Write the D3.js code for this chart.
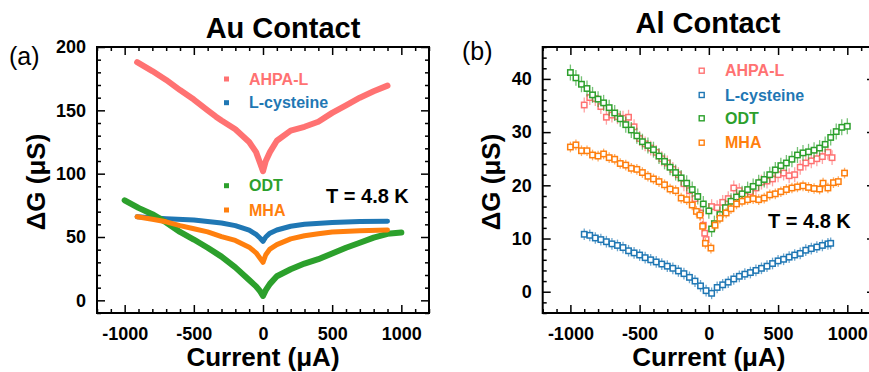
<!DOCTYPE html>
<html>
<head>
<meta charset="utf-8">
<script src="https://cdn.jsdelivr.net/npm/d3@7"></script>
<style>
  body { margin: 0; background: #fff; }
  svg { display: block; }
  text { font-family: "Liberation Sans", Arial, sans-serif; }
</style>
</head>
<body>
<div id="chart"></div>
<script>
// ---- shared axis data ----
var xTicks = [-1000, -500, 0, 500, 1000];
var xTickLabels = ['-1000', '-500', '0', '500', '1000'];
var auYTicks = [0, 50, 100, 150, 200];
var auYTickLabels = ['0', '50', '100', '150', '200'];
var alYTicks = [0, 10, 20, 30, 40];
var alYTickLabels = ['0', '10', '20', '30', '40'];
var seriesNames = ['AHPA-L', 'L-cysteine', 'ODT', 'MHA'];
var seriesColors = ['#ff7272', '#1f77b4', '#2ca02c', '#ff7f0e'];

// ---- (a) Au contact: dense sweeps (current in uA, dG in uS) ----
var auAhpaI = [-910, -800, -700, -600, -500, -400, -340, -300, -200, -100, -50, -20, 0, 20, 50, 100, 200, 300, 400, 500, 600, 700, 800, 900];
var auAhpaG = [188, 181, 174, 166, 158.5, 150, 145, 142, 135, 125, 117, 108, 102, 110, 117, 126, 134, 137, 141, 148, 154, 160, 165, 169.5];
var auCysI = [-910, -700, -500, -300, -200, -100, -50, -20, 0, 20, 50, 100, 200, 300, 500, 700, 900];
var auCysG = [66, 64.5, 63.5, 61, 59, 55.5, 52, 49, 46.5, 50, 53, 55.5, 58.5, 60, 61.5, 62.2, 62.5];
var auOdtI = [-1000, -900, -800, -700, -600, -500, -400, -300, -200, -100, -50, -20, 0, 20, 50, 100, 200, 300, 400, 500, 600, 700, 800, 900, 1000];
var auOdtG = [79, 73, 68, 61.5, 54, 48, 41.5, 34.5, 26, 16, 11, 7, 3.5, 8, 13, 19, 24.5, 29, 32.5, 37, 41.5, 45.5, 49.5, 52.5, 53.5];
var auMhaI = [-910, -800, -700, -600, -500, -400, -300, -200, -100, -50, -20, 0, 20, 50, 100, 200, 300, 400, 500, 700, 900];
var auMhaG = [66, 64, 62, 59, 56.5, 54, 50.3, 47.3, 42, 37.5, 33, 30, 36, 40.5, 44, 48.5, 51, 52.5, 54, 55, 55.5];

// ---- (b) Al contact: averaged points with error bars ----
var alAhpaI = [-900, -860, -820, -780, -740, -700, -660, -620, -580, -540, -500, -460, -420, -380, -340, -300, -260, -220, -180, -140, -100, -60, -40, -30, -20,
  20, 60, 100, 140, 180, 220, 260, 300, 340, 380, 420, 460, 500, 540, 580, 620, 660, 700, 740, 780, 820, 860, 890];
var alAhpaG = [35.1, 36.5, 36.3, 34.8, 32.8, 33.2, 32.9, 32.6, 32.8, 31.0, 28.8, 27.8, 27.0, 26.2, 25.0, 24.2, 23.0, 22.0, 20.3, 19.0, 17.5, 14.8, 12.5, 11.0, 9.8,
  16.0, 15.8, 16.8, 17.5, 19.5, 19.0, 18.0, 18.8, 19.5, 20.6, 20.8, 21.2, 22.0, 22.3, 21.8, 22.0, 23.4, 24.2, 24.6, 25.0, 25.4, 26.2, 25.2];
var alAhpaErr = 1.4;

var alCysI = [-900, -860, -820, -780, -740, -700, -660, -620, -580, -540, -500, -460, -420, -380, -340, -300, -260, -220, -180, -140, -100, -60, -20,
  20, 60, 100, 140, 180, 220, 260, 300, 340, 380, 420, 460, 500, 540, 580, 620, 660, 700, 740, 780, 820, 860, 880];
var alCysG = [10.8, 10.6, 10.1, 9.8, 9.4, 9.0, 8.7, 8.3, 7.7, 7.3, 6.9, 6.4, 6.0, 5.6, 5.2, 4.8, 4.4, 3.9, 3.4, 2.7, 2.0, 1.1, 0.2,
  -0.3, 0.8, 1.3, 1.8, 2.4, 2.9, 3.3, 3.6, 4.0, 4.4, 4.8, 5.3, 5.8, 6.1, 6.5, 6.9, 7.2, 7.8, 8.1, 8.4, 8.7, 9.0, 9.1];
var alCysErr = 1.1;

var alOdtI = [-1000, -960, -920, -880, -840, -800, -760, -720, -680, -640, -600, -560, -520, -480, -440, -400, -360, -320, -280, -240, -200, -160, -120, -80, -40, 0,
  20, 40, 80, 120, 160, 200, 240, 280, 320, 360, 400, 440, 480, 520, 560, 600, 640, 680, 720, 760, 800, 840, 880, 920, 960, 1000];
var alOdtG = [41.2, 40.2, 39.0, 38.2, 37.0, 36.2, 35.5, 34.6, 33.6, 32.5, 31.4, 30.4, 29.3, 28.2, 27.5, 26.7, 25.5, 24.5, 23.4, 22.4, 21.4, 20.4, 19.2, 17.9, 16.5, 15.2,
  11.8, 12.8, 14.5, 15.8, 17.0, 17.8, 18.4, 19.2, 19.8, 20.5, 21.1, 22.0, 22.9, 23.7, 24.2, 24.9, 25.7, 26.1, 26.3, 26.6, 27.0, 27.7, 29.0, 30.1, 30.9, 31.1];
var alOdtErr = 1.5;

var alMhaI = [-1000, -960, -920, -880, -840, -800, -760, -720, -680, -640, -600, -560, -520, -480, -440, -400, -360, -320, -280, -240, -200, -160, -120, -90, -65, -45, -25,
  15, 45, 80, 125, 160, 200, 240, 280, 320, 360, 400, 440, 480, 520, 560, 600, 640, 680, 720, 760, 800, 825, 860, 900, 935, 980];
var alMhaG = [27.2, 27.6, 26.5, 26.5, 25.7, 25.5, 25.9, 25.2, 24.9, 24.1, 23.8, 23.2, 23.0, 22.4, 21.7, 21.2, 20.7, 20.1, 19.3, 19.0, 17.6, 17.3, 16.3, 15.1, 14.4, 12.3, 9.1,
  8.2, 12.5, 13.8, 14.8, 15.6, 16.5, 17.0, 17.3, 17.5, 17.3, 17.6, 18.2, 18.4, 18.8, 19.2, 19.5, 19.7, 19.9, 19.6, 19.4, 19.3, 20.4, 19.5, 20.5, 20.7, 22.3];
var alMhaErr = 1.0;

var svg = d3.select('#chart')
  .append('svg')
  .attr('width', 869)
  .attr('height', 372);

var plotTop = 47, plotBottom = 313;

function zip(xs, ys) {
  return xs.map(function(v, i) { return { i: v, g: ys[i] }; });
}

// frame, inward ticks on all four sides, tick labels
function drawFrame(g, x, y, yTicks, yLabels, yMinor) {
  var xMinor = d3.range(-1200, 1201, 100).filter(function(v) { return xTicks.indexOf(v) < 0; });
  var left = x.range()[0], right = x.range()[1];

  function style(sel) {
    sel.select('.domain').remove();
    sel.selectAll('line').attr('stroke', '#000').attr('stroke-width', 1.5);
    sel.selectAll('text')
      .attr('fill', '#000')
      .style('font-size', '18px')
      .style('font-weight', 'bold')
      .style('font-family', '"Liberation Sans", Arial, sans-serif');
  }

  g.append('g').attr('transform', 'translate(0,' + plotBottom + ')')
    .call(d3.axisBottom(x).tickValues(xTicks).tickSize(-8).tickPadding(14)
      .tickFormat(function(d, i) { return xTickLabels[i]; }))
    .call(style);
  g.append('g').attr('transform', 'translate(0,' + plotBottom + ')')
    .call(d3.axisBottom(x).tickValues(xMinor).tickSize(-4).tickFormat(''))
    .call(style);
  g.append('g').attr('transform', 'translate(0,' + plotTop + ')')
    .call(d3.axisTop(x).tickValues(xTicks).tickSize(-8).tickFormat(''))
    .call(style);
  g.append('g').attr('transform', 'translate(0,' + plotTop + ')')
    .call(d3.axisTop(x).tickValues(xMinor).tickSize(-4).tickFormat(''))
    .call(style);

  g.append('g').attr('transform', 'translate(' + left + ',0)')
    .call(d3.axisLeft(y).tickValues(yTicks).tickSize(-8).tickPadding(11)
      .tickFormat(function(d, i) { return yLabels[i]; }))
    .call(style);
  g.append('g').attr('transform', 'translate(' + left + ',0)')
    .call(d3.axisLeft(y).tickValues(yMinor).tickSize(-4).tickFormat(''))
    .call(style);
  g.append('g').attr('transform', 'translate(' + right + ',0)')
    .call(d3.axisRight(y).tickValues(yTicks).tickSize(-8).tickFormat(''))
    .call(style);
  g.append('g').attr('transform', 'translate(' + right + ',0)')
    .call(d3.axisRight(y).tickValues(yMinor).tickSize(-4).tickFormat(''))
    .call(style);

  g.append('rect')
    .attr('x', left).attr('y', plotTop)
    .attr('width', right - left).attr('height', plotBottom - plotTop)
    .attr('fill', 'none')
    .attr('stroke', '#000')
    .attr('stroke-width', 2);
}

function addText(g, x, y, str, size, weight, color, anchor) {
  return g.append('text')
    .attr('x', x).attr('y', y)
    .attr('text-anchor', anchor || 'start')
    .attr('fill', color || '#000')
    .style('font-size', size + 'px')
    .style('font-weight', weight || 'bold')
    .text(str);
}

function axisTitles(g, x, yTitleX, panelLabel, labelX, labelY, title, titleX, titleY) {
  addText(g, x(0), 366, 'Current (\u03bcA)', 26, 'bold', '#000', 'middle');
  g.append('text')
    .attr('transform', 'translate(' + yTitleX + ',182) rotate(-90)')
    .attr('text-anchor', 'middle')
    .style('font-size', '26px')
    .style('font-weight', 'bold')
    .text('\u0394G (\u03bcS)');
  addText(g, labelX, labelY, panelLabel, 25, 'normal', '#000', 'start');
  addText(g, titleX, titleY, title, 29, 'bold', '#000', 'middle');
}

// ================= (a) Au Contact =================
(function() {
  var x = d3.scaleLinear().domain([-1200, 1200]).range([97, 429]);
  var y = d3.scaleLinear().domain([-10, 200]).range([plotBottom, plotTop]);
  var g = svg.append('g');

  var sets = [zip(auAhpaI, auAhpaG), zip(auCysI, auCysG), zip(auOdtI, auOdtG), zip(auMhaI, auMhaG)];
  var widths = [6, 5, 6, 5];

  var line = d3.line()
    .x(function(d) { return x(d.i); })
    .y(function(d) { return y(d.g); });

  sets.forEach(function(data, k) {
    g.append('path')
      .datum(data)
      .attr('d', line)
      .attr('fill', 'none')
      .attr('stroke', seriesColors[k])
      .attr('stroke-width', widths[k])
      .attr('stroke-linejoin', 'round')
      .attr('stroke-linecap', 'round');
  });

  // legend
  var legendY = [79, 102.7, 185.7, 210];
  seriesNames.forEach(function(name, k) {
    g.append('rect')
      .attr('x', 224).attr('y', legendY[k] - 2.5)
      .attr('width', 5).attr('height', 5)
      .attr('fill', seriesColors[k]);
    addText(g, 249, legendY[k] + 5.7, name, 16, 'bold', seriesColors[k]);
  });
  addText(g, 326, 203, 'T = 4.8 K', 20, 'bold', '#000');

  var minorY = d3.range(-10, 201, 10).filter(function(v) { return v % 50 !== 0; });
  drawFrame(g, x, y, auYTicks, auYTickLabels, minorY);
  axisTitles(g, x, 45, '(a)', 9, 65, 'Au Contact', 283, 38);
})();

// ================= (b) Al Contact =================
(function() {
  var x = d3.scaleLinear().domain([-1200, 1200]).range([542.7, 875]);
  var y = d3.scaleLinear().domain([-4, 46]).range([plotBottom, plotTop]);
  var g = svg.append('g');

  var sets = [
    { data: zip(alAhpaI, alAhpaG), err: alAhpaErr },
    { data: zip(alCysI, alCysG), err: alCysErr },
    { data: zip(alOdtI, alOdtG), err: alOdtErr },
    { data: zip(alMhaI, alMhaG), err: alMhaErr }
  ];

  sets.forEach(function(s, k) {
    var col = seriesColors[k];
    var sg = g.append('g');
    // error bars
    sg.selectAll('line.err')
      .data(s.data)
      .enter().append('line')
      .attr('x1', function(d) { return x(d.i); })
      .attr('x2', function(d) { return x(d.i); })
      .attr('y1', function(d) { return y(d.g - s.err); })
      .attr('y2', function(d) { return y(d.g + s.err); })
      .attr('stroke', col)
      .attr('stroke-opacity', 0.65)
      .attr('stroke-width', 1.3);
    // open squares
    sg.selectAll('rect.pt')
      .data(s.data)
      .enter().append('rect')
      .attr('x', function(d) { return x(d.i) - 2.7; })
      .attr('y', function(d) { return y(d.g) - 2.7; })
      .attr('width', 5.4).attr('height', 5.4)
      .attr('fill', '#fff')
      .attr('stroke', col)
      .attr('stroke-width', 1.5);
  });

  // legend
  var legendY = [70.7, 95, 118.3, 142.7];
  seriesNames.forEach(function(name, k) {
    g.append('rect')
      .attr('x', 699.2).attr('y', legendY[k] - 2.5)
      .attr('width', 5).attr('height', 5)
      .attr('fill', '#fff')
      .attr('stroke', seriesColors[k])
      .attr('stroke-width', 1.4);
    addText(g, 725, legendY[k] + 5.7, name, 16, 'bold', seriesColors[k]);
  });
  addText(g, 768, 228, 'T = 4.8 K', 20, 'bold', '#000');

  var minorY = d3.range(-4, 47, 2).filter(function(v) { return v % 10 !== 0; });
  drawFrame(g, x, y, alYTicks, alYTickLabels, minorY);
  axisTitles(g, x, 500, '(b)', 462, 60, 'Al Contact', 708, 32.5);
})();
</script>
</body>
</html>
